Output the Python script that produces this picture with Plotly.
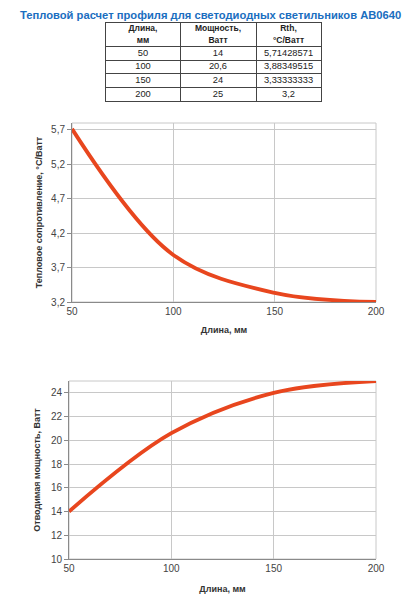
import plotly.graph_objects as go

# data from the reference table
lengths = [50, 100, 150, 200]
power = [14, 20.6, 24, 25]
rth = [5.71428571, 3.88349515, 3.33333333, 3.2]

power_text = ["14", "20,6", "24", "25"]
rth_text = ["5,71428571", "3,88349515", "3,33333333", "3,2"]
header = ["<b>Длина,<br>мм</b>", "<b>Мощность,<br>Ватт</b>", "<b>Rth,<br>°C/Ватт</b>"]

rth_ticks = [3.2, 3.7, 4.2, 4.7, 5.2, 5.7]
rth_ticktext = ["3,2", "3,7", "4,2", "4,7", "5,2", "5,7"]
power_ticks = [10, 12, 14, 16, 18, 20, 22, 24]
x_ticks = [50, 100, 150, 200]

# the page body keeps its default 8px margin, so the figure is 8px smaller
PAGE_W, PAGE_H, BODY = 419, 600, 8
W, H = PAGE_W - BODY, PAGE_H - BODY
FONT = "Liberation Sans, Arial, sans-serif"
LINE = "#e8461e"

# table geometry (in table-axis units: x in px, y in rows)
col_edges = [0, 74, 150, 215]
head_h = 1.75


def px_x(a, b):
    return [(a - BODY) / W, (b - BODY) / W]


def px_y(top, bottom):
    return [1 - (bottom - BODY) / H, 1 - (top - BODY) / H]


col_mid = [(col_edges[i] + col_edges[i + 1]) / 2 for i in range(3)]
n_rows = len(lengths)
row_edges = [head_h + i for i in range(n_rows)]
table_cols = [[str(v) for v in lengths], power_text, rth_text]

cx, cy, ct = [], [], []
for c in range(3):
    for r in range(n_rows):
        cx.append(col_mid[c])
        cy.append(head_h + r + 0.5)
        ct.append(table_cols[c][r])

fig = go.Figure()

# table drawn as text on its own axes, borders are the axis grid
fig.add_trace(go.Scatter(x=col_mid, y=[head_h / 2] * 3, text=header, mode="text",
                         textposition="middle center",
                         textfont=dict(family=FONT, size=8.5, color="#222"),
                         xaxis="x3", yaxis="y3", hoverinfo="skip", showlegend=False))
fig.add_trace(go.Scatter(x=cx, y=cy, text=ct, mode="text", textposition="middle center",
                         textfont=dict(family=FONT, size=9.3, color="#222"),
                         xaxis="x3", yaxis="y3", hoverinfo="skip", showlegend=False))

fig.add_trace(go.Scatter(x=lengths, y=rth, mode="lines",
                         line=dict(color=LINE, width=3.8, shape="spline", smoothing=1),
                         xaxis="x", yaxis="y", showlegend=False))
fig.add_trace(go.Scatter(x=lengths, y=power, mode="lines",
                         line=dict(color=LINE, width=3.8, shape="spline", smoothing=1),
                         xaxis="x2", yaxis="y2", showlegend=False))

axis_common = dict(showgrid=True, gridcolor="#c8c8c8", gridwidth=1,
                   showline=True, linecolor="#8a8a8a", mirror=False,
                   tickfont=dict(family=FONT, size=10, color="#444"),
                   zeroline=False, fixedrange=True, automargin=False)
x_extra = dict(ticks="")
y_extra = dict(ticks="outside", ticklen=4, tickcolor="#8a8a8a")

table_axis = dict(showgrid=True, gridcolor="#444", gridwidth=1, showline=True,
                  linecolor="#444", linewidth=1, mirror=True, showticklabels=False,
                  ticks="", zeroline=False, fixedrange=True, automargin=False)

fig.update_layout(
    width=W, height=H,
    margin=dict(l=0, r=0, t=0, b=0),
    paper_bgcolor="white", plot_bgcolor="white",
    showlegend=False,
    font=dict(family=FONT, color="#333"),
    xaxis=dict(domain=px_x(72, 376), range=[50, 200], tickvals=x_ticks,
               title=dict(text="<b>Длина, мм</b>", font=dict(size=9), standoff=10),
               anchor="y", **axis_common, **x_extra),
    yaxis=dict(domain=px_y(123, 302), range=[3.2, 5.8], tickvals=rth_ticks,
               ticktext=rth_ticktext,
               title=dict(text="<b>Тепловое сопротивление, °C/Ватт</b>", font=dict(size=9), standoff=6),
               anchor="x", **axis_common, **y_extra),
    xaxis2=dict(domain=px_x(69, 376), range=[50, 200], tickvals=x_ticks,
                title=dict(text="<b>Длина, мм</b>", font=dict(size=9), standoff=12),
                anchor="y2", **axis_common, **x_extra),
    yaxis2=dict(domain=px_y(381, 559), range=[10, 25], tickvals=power_ticks,
                title=dict(text="<b>Отводимая мощность, Ватт</b>", font=dict(size=9), standoff=8),
                anchor="x2", **axis_common, **y_extra),
    xaxis3=dict(domain=px_x(106, 321), range=[col_edges[0], col_edges[-1]],
                tickvals=col_edges[1:-1], anchor="y3", **table_axis),
    yaxis3=dict(domain=px_y(23, 101), range=[head_h + n_rows, 0],
                tickvals=row_edges, anchor="x3", **table_axis),
    annotations=[dict(text="<b>Тепловой расчет профиля для светодиодных светильников AB0640</b>",
                      x=(210 - BODY) / W, y=1, xref="paper", yref="paper",
                      xanchor="center", yanchor="top", borderpad=0,
                      showarrow=False, font=dict(family=FONT, size=11.2, color="#1a6ec0"))],
    shapes=[
        # light frame on top/right of each plot area
        dict(type="rect", xref="x domain", yref="y domain", x0=0, x1=1, y0=0, y1=1,
             line=dict(color="#c8c8c8", width=1), layer="below"),
        dict(type="rect", xref="x2 domain", yref="y2 domain", x0=0, x1=1, y0=0, y1=1,
             line=dict(color="#c8c8c8", width=1), layer="below"),
    ],
)

fig.write_html("out.html")
